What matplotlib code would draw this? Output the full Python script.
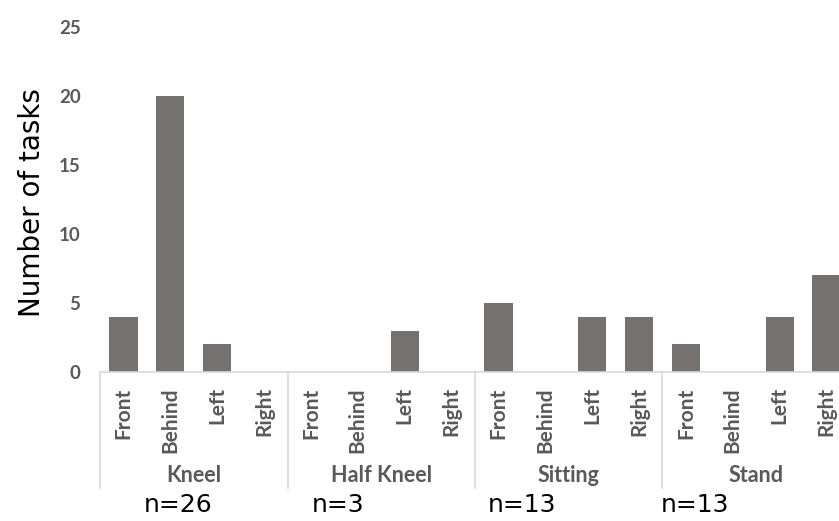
import numpy as np
import matplotlib
matplotlib.use('Agg')
import matplotlib.pyplot as plt
import matplotlib.transforms as mtransforms
from matplotlib import font_manager

# Data
groups = ["Kneel", "Half Kneel", "Sitting", "Stand"]
positions = ["Front", "Behind", "Left", "Right"]
kneel = [4, 20, 2, 0]
half_kneel = [0, 0, 3, 0]
sitting = [5, 0, 4, 4]
stand = [2, 0, 4, 7]
n_labels = ["n=26", "n=3", "n=13", "n=13"]

values = kneel + half_kneel + sitting + stand
labels = positions * len(groups)

# pick a family that really has a bold face
bold_family = 'DejaVu Sans'
for fam in ['Lato', 'Open Sans', 'Noto Sans']:
    fp = font_manager.FontProperties(family=fam, weight='bold')
    path = font_manager.findfont(fp, fallback_to_default=False)
    if 'bold' in path.lower():
        bold_family = fam
        break

W, H = 839, 521
fig = plt.figure(figsize=(W / 100, H / 100), dpi=100)
ax = fig.add_axes([100 / W, (H - 372) / H, 750 / W, 345 / H])

x = np.arange(len(values))
ax.bar(x, values, width=0.6, color='#767171')

ax.set_xlim(-0.5, len(values) - 0.5)
ax.set_ylim(0, 25)
ax.set_yticks([0, 5, 10, 15, 20, 25])

gray = '#595959'
for s in ['top', 'right', 'left']:
    ax.spines[s].set_visible(False)
ax.spines['bottom'].set_color('#d9d9d9')
ax.spines['bottom'].set_linewidth(1.2)

ax.set_xticks(x)
ax.set_xticklabels(labels, rotation=90, fontfamily=bold_family, fontweight='bold',
                   fontsize=15, color=gray)
ax.tick_params(axis='x', length=0, pad=11)
ax.tick_params(axis='y', length=0, pad=14, labelcolor=gray)
for t in ax.get_yticklabels():
    t.set_fontfamily(bold_family)
    t.set_fontweight('bold')
    t.set_fontsize(13.5)

# group dividers and labels
trans = mtransforms.blended_transform_factory(ax.transData, ax.transAxes)
for i in range(len(groups) + 1):
    xd = i * 4 - 0.5
    ax.plot([xd, xd], [0, -0.336], transform=trans, color='#d9d9d9',
            linewidth=1.2, clip_on=False)
for i, g in enumerate(groups):
    ax.text(i * 4 + 1.5, -0.30, g, transform=trans, ha='center', va='center',
            fontfamily=bold_family, fontweight='bold', fontsize=15.5, color=gray)

# sample sizes
n_x = [178, 338, 522, 695]
for xp, t in zip(n_x, n_labels):
    fig.text(xp / W, 1 - 505 / H, t, ha='center', va='center', fontsize=18,
             color='black')

fig.text(32 / W, 1 - 203 / H, "Number of tasks", rotation=90, ha='center',
         va='center', fontsize=20, color='black')

fig.savefig('out.png', dpi=100)
